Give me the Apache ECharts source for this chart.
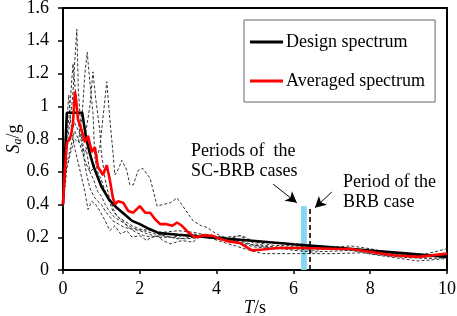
<!DOCTYPE html>
<html>
<head>
<meta charset="UTF-8">
<title>Spectra</title>
<script src="https://cdn.jsdelivr.net/npm/echarts@6/dist/echarts.min.js"></script>
<style>
  html, body { margin: 0; padding: 0; background: #fff; }
  #chart { width: 457px; height: 316px; }
</style>
</head>
<body>
<div id="chart"></div>
<script>
// design spectrum
var designSpec = [[0,0.40],[0.1,0.96],[0.5,0.96],[0.6,0.81],[0.7,0.71],[0.8,0.63],[0.9,0.57],[1.0,0.51],[1.2,0.43],[1.4,0.38],[1.6,0.34],[1.8,0.30],[2.0,0.28],[2.25,0.25],[2.5,0.225],[3,0.215],[4,0.196],[5,0.177],[6,0.157],[7,0.138],[8,0.119],[9,0.10],[10,0.08]];

// averaged spectrum
var avgSpec = [[0,0.40],[0.05,0.62],[0.1,0.78],[0.18,0.80],[0.22,0.84],[0.26,0.90],[0.31,1.09],[0.35,1.02],[0.39,0.92],[0.45,0.88],[0.5,0.84],[0.57,0.78],[0.65,0.82],[0.75,0.72],[0.83,0.75],[0.91,0.63],[1.04,0.58],[1.14,0.64],[1.22,0.55],[1.3,0.44],[1.36,0.40],[1.43,0.42],[1.57,0.41],[1.7,0.36],[1.83,0.35],[2.0,0.39],[2.14,0.35],[2.27,0.35],[2.4,0.31],[2.53,0.28],[2.7,0.28],[2.85,0.27],[2.97,0.29],[3.1,0.27],[3.26,0.23],[3.44,0.20],[3.65,0.21],[3.88,0.21],[4.1,0.19],[4.3,0.175],[4.6,0.165],[4.92,0.12],[5.2,0.125],[5.6,0.134],[6.2,0.134],[7.0,0.13],[7.5,0.128],[8.2,0.104],[8.6,0.09],[9.25,0.08],[10,0.10]];

// individual records (thin dashed)
var rec1 = [[0,0.40],[0.05,0.55],[0.1,0.72],[0.15,0.85],[0.2,0.95],[0.25,1.05],[0.3,1.25],[0.36,1.47],[0.4,1.1],[0.45,0.92],[0.5,0.8],[0.55,0.7],[0.6,0.75],[0.7,0.6],[0.8,0.55],[0.9,0.48],[1.0,0.45],[1.1,0.4],[1.2,0.36],[1.35,0.32],[1.5,0.3],[1.7,0.27],[1.9,0.25],[2.1,0.24],[2.4,0.22],[2.8,0.2],[3.2,0.19],[3.6,0.2],[4.0,0.19],[4.6,0.18],[5.0,0.15],[5.5,0.13],[6.0,0.13],[6.5,0.12],[7.0,0.13],[7.5,0.13],[8.0,0.12],[8.5,0.1],[9.0,0.09],[9.5,0.09],[10,0.1]];
var rec2 = [[0,0.38],[0.05,0.5],[0.1,0.62],[0.2,0.72],[0.3,0.8],[0.4,0.78],[0.5,0.95],[0.57,1.2],[0.63,1.33],[0.7,1.15],[0.78,0.96],[0.83,0.69],[0.9,0.6],[1.0,0.55],[1.1,0.48],[1.2,0.42],[1.3,0.36],[1.45,0.32],[1.6,0.3],[1.8,0.27],[2.0,0.25],[2.3,0.24],[2.6,0.23],[3.0,0.24],[3.4,0.23],[3.8,0.21],[4.2,0.2],[4.66,0.21],[5.0,0.17],[5.5,0.15],[6.2,0.147],[7.0,0.14],[7.5,0.147],[8.0,0.13],[8.6,0.1],[9.25,0.086],[10,0.13]];
var rec3 = [[0,0.42],[0.05,0.6],[0.1,0.75],[0.2,0.82],[0.3,0.9],[0.4,0.85],[0.5,0.8],[0.6,0.85],[0.7,1.0],[0.78,1.21],[0.85,1.05],[0.96,0.85],[1.0,0.71],[1.1,0.55],[1.2,0.45],[1.3,0.38],[1.4,0.33],[1.55,0.3],[1.7,0.26],[1.9,0.23],[2.1,0.21],[2.3,0.2],[2.6,0.21],[3.0,0.19],[3.4,0.2],[3.7,0.22],[4.0,0.2],[4.5,0.17],[5.0,0.14],[5.5,0.13],[6.0,0.135],[6.5,0.14],[7.0,0.13],[7.5,0.12],[8.0,0.11],[8.5,0.09],[9.0,0.08],[9.5,0.08],[10,0.09]];
var rec4 = [[0,0.4],[0.05,0.55],[0.1,0.65],[0.2,0.75],[0.3,0.85],[0.4,0.8],[0.5,0.72],[0.6,0.65],[0.7,0.6],[0.8,0.62],[0.9,0.7],[0.96,0.75],[1.05,0.95],[1.14,1.15],[1.22,0.92],[1.3,0.72],[1.35,0.58],[1.45,0.62],[1.53,0.67],[1.66,0.61],[1.74,0.52],[1.83,0.52],[1.96,0.61],[2.08,0.62],[2.27,0.56],[2.45,0.39],[2.6,0.40],[2.79,0.41],[2.97,0.44],[3.18,0.37],[3.39,0.30],[3.6,0.27],[3.75,0.26],[4.0,0.22],[4.3,0.19],[4.6,0.17],[5.0,0.15],[5.5,0.14],[6.0,0.14],[6.5,0.145],[7.0,0.14],[7.5,0.13],[8.0,0.11],[8.5,0.09],[9.0,0.08],[9.5,0.08],[10,0.085]];
var rec5 = [[0,0.40],[0.05,0.7],[0.1,0.9],[0.15,1.07],[0.2,0.9],[0.3,0.75],[0.4,0.65],[0.5,0.55],[0.57,0.48],[0.65,0.37],[0.75,0.42],[0.85,0.4],[0.96,0.36],[1.1,0.3],[1.22,0.24],[1.35,0.27],[1.5,0.22],[1.66,0.24],[1.8,0.2],[2.0,0.21],[2.18,0.18],[2.3,0.2],[2.45,0.21],[2.6,0.18],[2.79,0.16],[3.1,0.18],[3.38,0.17],[3.65,0.22],[3.9,0.19],[4.3,0.16],[4.87,0.12],[5.2,0.10],[5.7,0.10],[6.2,0.10],[7.0,0.1],[7.8,0.105],[8.5,0.08],[9.25,0.055],[10,0.07]];
var rec6 = [[0,0.41],[0.05,0.6],[0.1,0.8],[0.18,1.0],[0.26,1.26],[0.32,1.1],[0.4,0.9],[0.5,0.75],[0.6,0.6],[0.7,0.5],[0.8,0.45],[0.9,0.42],[1.0,0.4],[1.1,0.36],[1.2,0.33],[1.3,0.3],[1.45,0.28],[1.6,0.26],[1.8,0.25],[2.0,0.24],[2.2,0.22],[2.5,0.2],[2.8,0.2],[3.1,0.21],[3.4,0.22],[3.8,0.2],[4.2,0.18],[4.6,0.21],[5.0,0.16],[5.5,0.14],[6.0,0.12],[6.5,0.11],[7.0,0.115],[7.5,0.12],[8.0,0.1],[8.5,0.085],[9.0,0.075],[9.5,0.07],[10,0.075]];
var records = [rec1, rec2, rec3, rec4, rec5, rec6];

// periods of the analysed cases
var scBrbPeriods = [6.2, 6.35];
var brbPeriod = 6.43;
var periodMarkTop = 0.39;

// annotation arrows [from, to] in (T, Sa/g)
var arrowScBrb = [[5.47, 0.525], [6.09, 0.41]];
var arrowBrb = [[7.0, 0.476], [6.56, 0.38]];

var serif = '"Liberation Serif", "Times New Roman", serif';

var chart = echarts.init(document.getElementById('chart'));

var series = [];
records.forEach(function (r, i) {
    series.push({
        name: 'rec' + (i + 1),
        type: 'line',
        data: r,
        symbol: 'none',
        silent: true,
        lineStyle: { color: '#333', width: 1, type: [3, 2] },
        z: 2
    });
});

series.push({
    name: 'Design spectrum',
    type: 'line',
    data: designSpec,
    symbol: 'none',
    lineStyle: { color: '#000', width: 2.6 },
    itemStyle: { color: '#000' },
    z: 4
});
series.push({
    name: 'Averaged spectrum',
    type: 'line',
    data: avgSpec,
    symbol: 'none',
    lineStyle: { color: '#ff0000', width: 2.6 },
    itemStyle: { color: '#ff0000' },
    z: 5
});

// period markers + arrows
series.push({
    name: 'marks',
    type: 'line',
    data: [],
    symbol: 'none',
    silent: true,
    markArea: {
        silent: true,
        itemStyle: { color: '#86d6f2' },
        data: [[{ coord: [scBrbPeriods[0], 0] }, { coord: [scBrbPeriods[1], periodMarkTop] }]]
    },
    markLine: {
        silent: true,
        animation: false,
        label: { show: false },
        data: [
            [{ coord: [brbPeriod, 0], symbol: 'none' }, { coord: [brbPeriod, periodMarkTop], symbol: 'none',
              lineStyle: { color: '#000', width: 1.6, type: [5, 3] } }],
            [{ coord: arrowScBrb[0], symbol: 'none' }, { coord: arrowScBrb[1], symbol: 'arrow', symbolSize: [9, 11],
              lineStyle: { color: '#000', width: 1, type: 'solid' } }],
            [{ coord: arrowBrb[0], symbol: 'none' }, { coord: arrowBrb[1], symbol: 'arrow', symbolSize: [9, 11],
              lineStyle: { color: '#000', width: 1, type: 'solid' } }]
        ]
    },
    z: 6
});

var option = {
    animation: false,
    grid: {
        left: 63, right: 10, top: 8, bottom: 46,
        containLabel: false, outerBoundsMode: 'none',
        show: true, borderColor: '#000', borderWidth: 2
    },
    legend: {
        data: ['Design spectrum', 'Averaged spectrum'],
        orient: 'vertical',
        left: 244, top: 20,
        icon: 'rect',
        itemWidth: 33, itemHeight: 3,
        itemGap: 21,
        padding: [13, 10, 12, 6],
        borderColor: '#666', borderWidth: 1,
        backgroundColor: '#fff',
        textStyle: { fontFamily: serif, fontSize: 18, color: '#000', padding: [0, 0, 0, -2] }
    },
    xAxis: {
        type: 'value', min: 0, max: 10, interval: 2,
        name: '{i|T}/s', nameLocation: 'middle', nameGap: 29, nameMoveOverlap: false,
        nameTextStyle: {
            fontFamily: serif, fontSize: 18, color: '#000',
            rich: { i: { fontFamily: serif, fontSize: 18, fontStyle: 'italic', color: '#000' } }
        },
        axisLine: { lineStyle: { color: '#000', width: 2 } },
        axisTick: { show: true, length: 4, lineStyle: { color: '#000', width: 1.5 } },
        axisLabel: { fontFamily: serif, fontSize: 18, color: '#000', margin: 10 },
        splitLine: { show: false }
    },
    yAxis: {
        type: 'value', min: 0, max: 1.6, interval: 0.2,
        name: '{i|S}{s|a}/g', nameLocation: 'middle', nameGap: 39, nameRotate: 90, nameMoveOverlap: false,
        nameTextStyle: {
            fontFamily: serif, fontSize: 18, color: '#000',
            rich: {
                i: { fontFamily: serif, fontSize: 18, fontStyle: 'italic', color: '#000' },
                s: { fontFamily: serif, fontSize: 12, fontStyle: 'italic', color: '#000', verticalAlign: 'bottom', padding: [8, 0, 0, 0] }
            }
        },
        axisLine: { show: true, lineStyle: { color: '#000', width: 2 } },
        axisTick: { show: true, length: 5, lineStyle: { color: '#000', width: 1.5 } },
        axisLabel: { fontFamily: serif, fontSize: 18, color: '#000', margin: 14 },
        splitLine: { show: false }
    },
    graphic: [
        { type: 'text', left: 191, top: 141, style: { text: 'Periods of  the\nSC-BRB cases', font: '18px ' + serif, fill: '#000', lineHeight: 20 } },
        { type: 'text', left: 343, top: 172, style: { text: 'Period of the\nBRB case', font: '18px ' + serif, fill: '#000', lineHeight: 20 } }
    ],
    series: series
};

chart.setOption(option);
</script>
</body>
</html>
